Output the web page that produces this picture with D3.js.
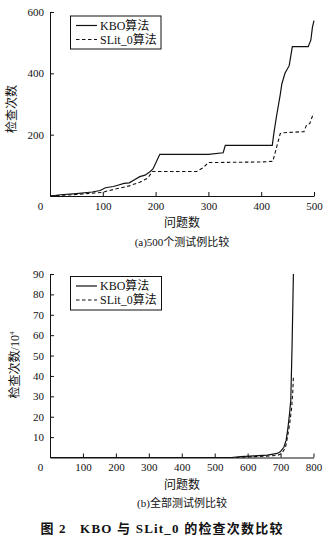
<!DOCTYPE html>
<html><head><meta charset="utf-8">
<script src="https://cdn.jsdelivr.net/npm/d3@7"></script>
<style>
html,body{margin:0;padding:0;background:#fff;}
svg{display:block;}
text{font-family:"Liberation Serif","Times New Roman","Noto Sans CJK SC",serif;fill:#111;}
</style></head><body>
<svg id="c" width="331" height="539"></svg>
<script>
// ---- Data ----
// Chart (a): 500 test cases
const aXTicks = [0, 100, 200, 300, 400, 500];
const aYTicks = [200, 400, 600];
const aKBO = [[0,0],[20,4],[50,8],[80,13],[95,18],[105,27],[120,31],[130,36],[140,41],[150,43],[160,53],[170,63],[180,68],[190,80],[195,88],[208,136],[300,136],[328,141],[332,165],[421,165],[424,205],[429,260],[436,330],[439,365],[445,400],[453,425],[459,487],[489,487],[494,508],[497,550],[500,572]];
const aSLit = [[0,0],[50,5],[100,12],[110,17],[130,25],[150,33],[170,45],[185,58],[194,80],[278,80],[290,92],[300,109],[400,111],[422,113],[436,203],[440,206],[481,210],[486,232],[492,236],[499,270]];
// Chart (b): all test cases (unit 10^4)
const bXTicks = [0, 100, 200, 300, 400, 500, 600, 700, 800];
const bYTicks = [10, 20, 30, 40, 50, 60, 70, 80, 90];
const bKBO = [[0,0],[550,0],[580,0.4],[620,0.8],[660,1.2],[690,2],[699,2.8],[710,5],[717,8.5],[722,14],[727,21],[731,28],[735,55],[739,90]];
const bSLit = [[0,0],[560,0],[600,0.3],[650,0.6],[690,1],[704,2],[715,5],[721,10],[728,17],[734,25],[737,32],[739,39.5]];
const legendNames = ["KBO算法", "SLit_0算法"];

const svg = d3.select("#c");

function panel(cfg){
  const x = d3.scaleLinear().domain(cfg.xDomain).range(cfg.xRange);
  const y = d3.scaleLinear().domain(cfg.yDomain).range(cfg.yRange);
  const gx = svg.append("g").attr("transform",`translate(0,${cfg.yRange[0]})`)
    .call(d3.axisBottom(x).tickValues(cfg.xTicks).tickSize(-4).tickSizeOuter(0).tickPadding(6));
  gx.selectAll(".tick text").attr("font-size",11).style("font-family",'"Liberation Serif",serif');
  gx.selectAll(".tick").filter(d=>d===0).select("line").remove();
  gx.selectAll(".tick").filter(d=>d===0).select("text").attr("x",-10);
  const gy = svg.append("g").attr("transform",`translate(${cfg.xRange[0]},0)`)
    .call(d3.axisLeft(y).tickValues(cfg.yTicks).tickSize(-4).tickSizeOuter(0).tickPadding(6));
  gy.selectAll(".tick text").attr("font-size",11).style("font-family",'"Liberation Serif",serif');
  [gx,gy].forEach(g=>{g.select(".domain").attr("stroke","#111");g.selectAll(".tick line").attr("stroke","#111");g.attr("font-family",null);});

  const line = d3.line().x(d=>x(d[0])).y(d=>y(d[1]));
  svg.append("path").datum(cfg.s1).attr("d",line).attr("fill","none").attr("stroke","#111").attr("stroke-width",1.2);
  svg.append("path").datum(cfg.s2).attr("d",line).attr("fill","none").attr("stroke","#111").attr("stroke-width",1.1).attr("stroke-dasharray","3.5,2.5");

  // legend
  const L = cfg.legend;
  svg.append("rect").attr("x",L.x).attr("y",L.y).attr("width",L.w).attr("height",L.h)
    .attr("fill","#fff").attr("stroke","#111").attr("stroke-width",1);
  legendNames.forEach((n,i)=>{
    const yy = L.y + 9.5 + i*14;
    svg.append("line").attr("x1",L.x+5.5).attr("x2",L.x+26.5).attr("y1",yy).attr("y2",yy)
      .attr("stroke","#111").attr("stroke-width",i?1.1:1.2).attr("stroke-dasharray",i?"3.5,2.5":null);
    svg.append("text").attr("x",L.x+29.5).attr("y",yy+4.2).attr("font-size",12).text(n);
  });

  // y title
  const yt = svg.append("text").attr("transform",`translate(${cfg.yTitle[0]},${cfg.yTitle[1]}) rotate(-90)`)
    .attr("text-anchor","middle").attr("font-size",12);
  yt.append("tspan").text("检查次数");
  if(cfg.yUnit){
    yt.append("tspan").text("/10");
    yt.append("tspan").attr("font-size",7).attr("dy",-5).text("4");
  }
  svg.append("text").attr("x",cfg.xTitle[0]).attr("y",cfg.xTitle[1]).attr("text-anchor","middle").attr("font-size",12).text("问题数");
  svg.append("text").attr("x",cfg.caption[0]).attr("y",cfg.caption[1]).attr("text-anchor","middle").attr("font-size",11).text(cfg.captionText);
}

panel({xDomain:[0,500], xRange:[50,314], yDomain:[0,600], yRange:[196,12],
  xTicks:aXTicks, yTicks:aYTicks, s1:aKBO, s2:aSLit,
  legend:{x:70.5,y:16,w:90.5,h:33}, yTitle:[16,109], xTitle:[182,227], caption:[182,246],
  captionText:"(a)500个测试例比较"});

panel({xDomain:[0,800], xRange:[50,313.5], yDomain:[0,90], yRange:[457.5,274],
  xTicks:bXTicks, yTicks:bYTicks, s1:bKBO, s2:bSLit,
  legend:{x:70.5,y:276.5,w:91,h:33.5}, yTitle:[19,365], xTitle:[182,489], caption:[182,507],
  captionText:"(b)全部测试例比较", yUnit:true});

svg.append("text").attr("x",162).attr("y",533).attr("text-anchor","middle")
  .attr("font-size",13).attr("font-weight","bold").attr("letter-spacing",1.2)
  .attr("xml:space","preserve").text("图 2   KBO 与 SLit_0 的检查次数比较");
</script>
</body></html>
